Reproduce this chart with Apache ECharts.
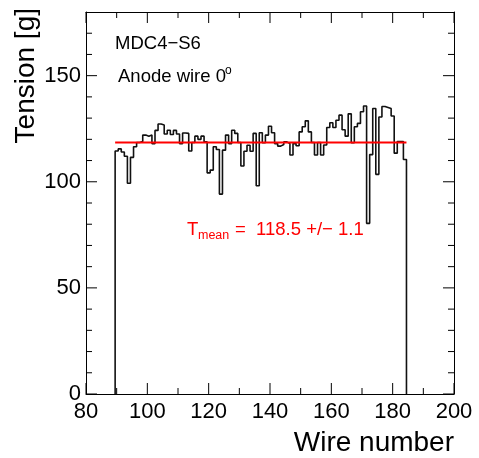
<!DOCTYPE html>
<html>
<head>
<meta charset="utf-8">
<script src="https://cdn.jsdelivr.net/npm/echarts@6/dist/echarts.min.js"></script>
<style>
  html, body { margin: 0; padding: 0; background: #fff; }
  #chart { width: 479px; height: 458px; }
</style>
</head>
<body>
<div id="chart"></div>
<script>
// wire numbers 90..184, one bin per wire
const firstWire = 90
const tension = [
  114.5, 115.5, 114.0, 112.0, 99.3, 111.5, 116.5, 118.5, 119.0, 122.0,
  121.5, 122.0, 118.0, 124.2, 127.2, 126.8, 122.5, 124.3, 122.3, 124.2,
  122.5, 118.0, 123.0, 122.8, 114.5, 118.5, 121.5, 120.0, 121.5, 118.8,
  104.2, 105.5, 116.5, 115.2, 94.2, 114.9, 122.0, 118.0, 124.3, 122.8,
  118.5, 107.4, 114.4, 117.2, 114.4, 122.8, 98.1, 123.1, 118.4, 122.0,
  126.2, 123.1, 118.0, 116.8, 117.6, 118.8, 118.0, 112.6, 118.0, 117.0,
  123.5, 125.9, 128.7, 123.5, 118.5, 112.6, 118.5, 112.6, 117.3, 125.6,
  127.8, 125.6, 129.0, 131.4, 124.5, 121.5, 132.0, 118.4, 125.9, 127.5,
  133.0, 135.7, 80.4, 112.8, 134.5, 103.5, 130.5, 135.5, 135.0, 134.5,
  131.0, 113.5, 119.0, 119.0, 110.5
]
const meanTension = 118.5
const meanError = 1.1

const xTicks = [80, 200, 20]   // min, max, label step
const yTicks = [0, 180, 50]
const xMajor = [80, 100, 120, 140, 160, 180, 200]
const xMinor = [90, 110, 130, 150, 170, 190]
const yMajor = [0, 50, 100, 150]
const yMinor = [10, 20, 30, 40, 60, 70, 80, 90, 110, 120, 130, 140, 160, 170]

const chamber = 'MDC4−S6'
const wireLabel = 'Anode wire 0'

const font = 'Liberation Sans, Arial, Helvetica, sans-serif'

// step outline: rise at left edge of each bin, back to 0 after the last one
const lo = firstWire - 0.5
const hi = firstWire + tension.length - 0.5
const outline = [[lo, 0]]
tension.forEach((v, i) => outline.push([firstWire + i + 0.5, v]))
outline.push([hi, 0])

// frame ticks: [value, side (0 bottom, 1 top, 2 left, 3 right), major]
const ticks = []
;[0, 1].forEach(side => {
  xMajor.forEach(v => ticks.push([v, side, 1]))
  xMinor.forEach(v => ticks.push([v, side, 0]))
})
;[2, 3].forEach(side => {
  yMajor.forEach(v => ticks.push([v, side, 1]))
  yMinor.forEach(v => ticks.push([v, side, 0]))
})

function renderTick(params, api) {
  const v = api.value(0)
  const side = api.value(1)
  const len = api.value(2) ? 11 : 6
  let a, b
  if (side === 0) {
    a = api.coord([v, yTicks[0]]); b = [a[0], a[1] - len]
  } else if (side === 1) {
    a = api.coord([v, yTicks[1]]); b = [a[0], a[1] + len]
  } else if (side === 2) {
    a = api.coord([xTicks[0], v]); b = [a[0] + len, a[1]]
  } else {
    a = api.coord([xTicks[1], v]); b = [a[0] - len, a[1]]
  }
  return {
    type: 'line',
    shape: { x1: a[0], y1: a[1], x2: b[0], y2: b[1] },
    style: { stroke: '#000', lineWidth: 1 }
  }
}

function axis(pos, range, labels) {
  const horizontal = pos === 'bottom' || pos === 'top'
  return {
    type: 'value', position: pos,
    min: range[0], max: range[1], interval: range[2],
    axisLine: { show: true, onZero: false, lineStyle: { color: '#000', width: 1 } },
    axisTick: { show: false },
    minorTick: { show: false },
    axisLabel: labels
      ? { show: true, showMaxLabel: horizontal, margin: horizontal ? 7 : 5, color: '#000', fontSize: 22, fontFamily: font }
      : { show: false },
    splitLine: { show: false }
  }
}

const chart = echarts.init(document.getElementById('chart'))

chart.setOption({
  animation: false,
  grid: { left: 86, right: 25, top: 12, bottom: 64 },
  xAxis: [axis('bottom', xTicks, true), axis('top', xTicks, false)],
  yAxis: [axis('left', yTicks, true), axis('right', yTicks, false)],
  series: [
    {
      type: 'line',
      step: 'start',
      data: outline,
      symbol: 'none',
      lineStyle: { color: '#111', width: 1.6 }
    },
    {
      type: 'line',
      data: [[lo, meanTension], [hi, meanTension]],
      symbol: 'none',
      lineStyle: { color: '#ff0000', width: 2 }
    },
    {
      type: 'custom',
      data: ticks,
      encode: { x: 0, y: 1 },
      renderItem: renderTick,
      clip: false,
      silent: true,
      z: 5
    }
  ],
  graphic: [
    {
      type: 'text', x: 26, y: 8, rotation: Math.PI / 2,
      style: { text: 'Tension [g]', align: 'right', verticalAlign: 'middle', fontSize: 28, fontFamily: font, fill: '#000' }
    },
    {
      type: 'text', x: 454, y: 443,
      style: { text: 'Wire number', align: 'right', verticalAlign: 'middle', fontSize: 28, fontFamily: font, fill: '#000' }
    },
    {
      type: 'text', x: 115, y: 44,
      style: { text: chamber, verticalAlign: 'middle', fontSize: 18.5, fontFamily: font, fill: '#000' }
    },
    {
      type: 'text', x: 118, y: 77,
      style: { text: wireLabel, verticalAlign: 'middle', fontSize: 18.5, fontFamily: font, fill: '#000' }
    },
    {
      type: 'text', x: 225, y: 71,
      style: { text: 'o', verticalAlign: 'middle', fontSize: 12, fontFamily: font, fill: '#000' }
    },
    {
      type: 'text', x: 187, y: 230,
      style: { text: 'T', verticalAlign: 'middle', fontSize: 18.5, fontFamily: font, fill: '#ff0000' }
    },
    {
      type: 'text', x: 198, y: 236,
      style: { text: 'mean', verticalAlign: 'middle', fontSize: 12.5, fontFamily: font, fill: '#ff0000' }
    },
    {
      type: 'text', x: 235, y: 230,
      style: { text: '=  ' + meanTension.toFixed(1) + ' +/− ' + meanError.toFixed(1), verticalAlign: 'middle', fontSize: 18.5, fontFamily: font, fill: '#ff0000' }
    }
  ]
})
</script>
</body>
</html>
